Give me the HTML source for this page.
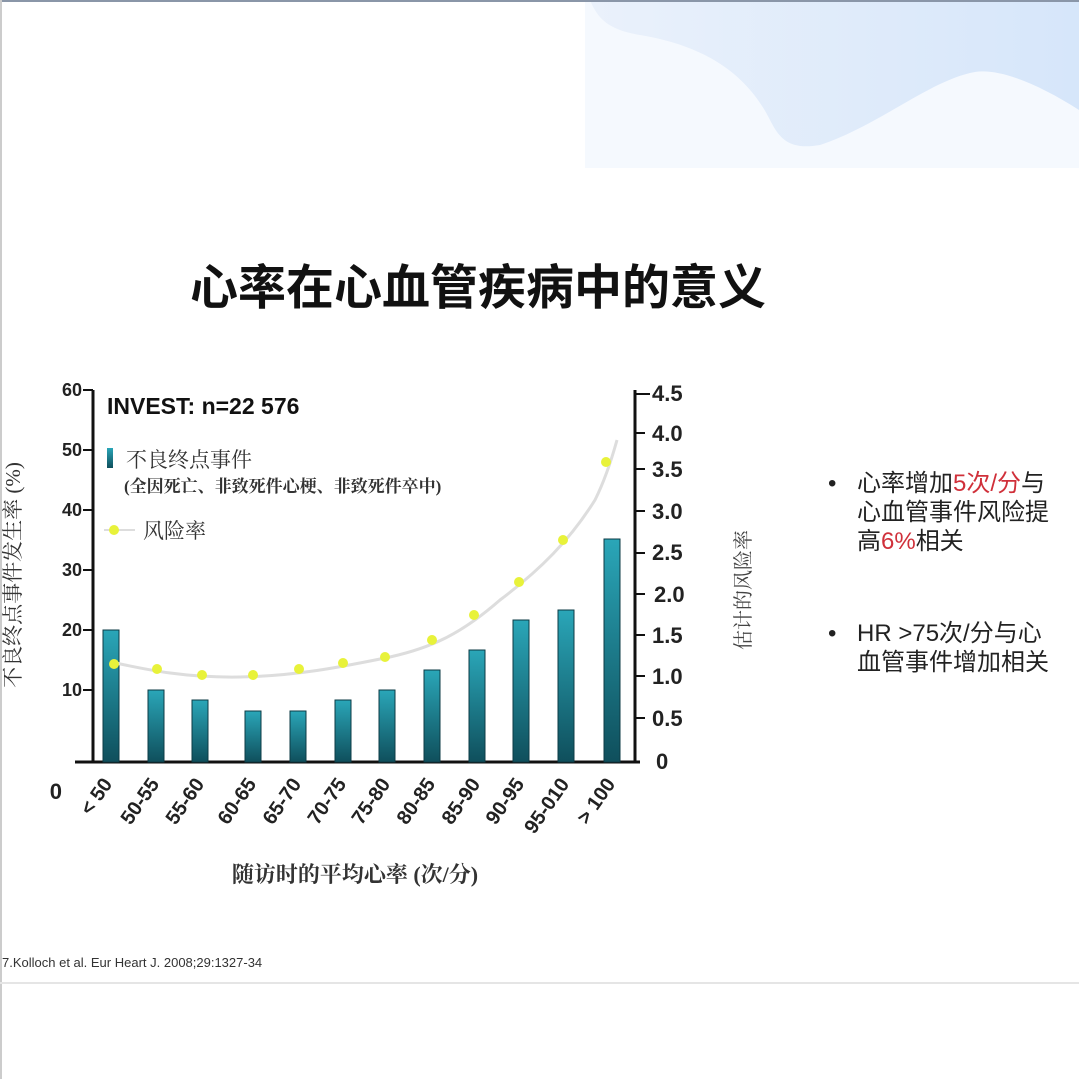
<!DOCTYPE html>
<html><head><meta charset="utf-8"><style>
body{margin:0;width:1079px;height:1079px;overflow:hidden;background:#fff;}
svg{display:block}
text{font-family:"Liberation Sans","Noto Sans CJK SC",sans-serif;}
.serif{font-family:"Liberation Serif","Noto Serif CJK SC",serif;}
</style></head><body>
<svg width="1079" height="1079" viewBox="0 0 1079 1079">
<defs>
<linearGradient id="bg" x1="0" x2="1"><stop offset="0" stop-color="#eaf1fb"/><stop offset="1" stop-color="#d6e6fa"/></linearGradient>
<linearGradient id="bar" x1="0" y1="0" x2="0" y2="1"><stop offset="0" stop-color="#2aa6b8"/><stop offset="1" stop-color="#0f4f5c"/></linearGradient>
</defs>
<rect width="1079" height="1079" fill="#fff"/>
<path d="M585 0 H1079 V168 H585 Z" fill="#f5f9fe"/>
<path d="M590 0 H1079 V110 C1040 85 1000 68 975 72 C930 80 880 125 820 145 C790 150 780 140 770 120 C745 70 700 45 640 35 C610 30 598 20 590 0Z" fill="url(#bg)"/>
<rect x="0" y="0" width="1079" height="2" fill="#8a96a8"/>
<line x1="1" y1="0" x2="1" y2="1079" stroke="#ccc" stroke-width="2"/>
<text x="478" y="304" text-anchor="middle" font-size="48" font-weight="bold" fill="#111">心率在心血管疾病中的意义</text>

<g stroke="#111" stroke-width="3" fill="none">
<line x1="93" y1="390" x2="93" y2="762"/>
<line x1="75" y1="762" x2="640" y2="762"/>
<line x1="635" y1="390" x2="635" y2="762"/>
</g>
<g stroke="#111" stroke-width="2">
<line x1="83" y1="390" x2="93" y2="390"/><line x1="83" y1="450" x2="93" y2="450"/><line x1="83" y1="510" x2="93" y2="510"/><line x1="83" y1="570" x2="93" y2="570"/><line x1="83" y1="630" x2="93" y2="630"/><line x1="83" y1="690" x2="93" y2="690"/>
<line x1="635" y1="394" x2="650" y2="394"/><line x1="635" y1="433" x2="645" y2="433"/><line x1="635" y1="469" x2="645" y2="469"/><line x1="635" y1="511" x2="645" y2="511"/><line x1="635" y1="553" x2="645" y2="553"/><line x1="635" y1="594" x2="645" y2="594"/><line x1="635" y1="635" x2="645" y2="635"/><line x1="635" y1="676" x2="645" y2="676"/><line x1="635" y1="718" x2="645" y2="718"/>
</g>
<g font-size="18" font-weight="bold" fill="#222" text-anchor="end">
<text x="82" y="396">60</text><text x="82" y="456">50</text><text x="82" y="516">40</text><text x="82" y="576">30</text><text x="82" y="636">20</text><text x="82" y="696">10</text>
</g>
<text x="62" y="799" font-size="22" font-weight="bold" fill="#222" text-anchor="end">0</text>
<g font-size="22" font-weight="bold" fill="#222">
<text x="652" y="401">4.5</text><text x="652" y="441">4.0</text><text x="652" y="477">3.5</text><text x="652" y="519">3.0</text><text x="652" y="560">2.5</text><text x="654" y="602">2.0</text><text x="652" y="643">1.5</text><text x="652" y="684">1.0</text><text x="652" y="726">0.5</text><text x="656" y="769">0</text>
</g>
<text transform="translate(20,575) rotate(-90)" text-anchor="middle" font-size="21" fill="#333" class="serif">不良终点事件发生率 (%)</text>
<text transform="translate(750,590) rotate(-90)" text-anchor="middle" font-size="20" fill="#444" class="serif">估计的风险率</text>

<g fill="url(#bar)" stroke="#0c3b45" stroke-width="1">
<rect x="103" y="630" width="16" height="132"/>
<rect x="148" y="690" width="16" height="72"/>
<rect x="192" y="700" width="16" height="62"/>
<rect x="245" y="711" width="16" height="51"/>
<rect x="290" y="711" width="16" height="51"/>
<rect x="335" y="700" width="16" height="62"/>
<rect x="379" y="690" width="16" height="72"/>
<rect x="424" y="670" width="16" height="92"/>
<rect x="469" y="650" width="16" height="112"/>
<rect x="513" y="620" width="16" height="142"/>
<rect x="558" y="610" width="16" height="152"/>
<rect x="604" y="539" width="16" height="223"/>
</g>
<path d="M111 662 C140 668 180 678 240 677 C300 676 350 665 390 657 C430 648 460 635 500 600 C540 570 570 540 595 500 C605 480 612 458 617 440" fill="none" stroke="#ddd" stroke-width="3"/>
<g fill="#e8f23a">
<circle cx="114" cy="664" r="5"/><circle cx="157" cy="669" r="5"/><circle cx="202" cy="675" r="5"/><circle cx="253" cy="675" r="5"/><circle cx="299" cy="669" r="5"/><circle cx="343" cy="663" r="5"/><circle cx="385" cy="657" r="5"/><circle cx="432" cy="640" r="5"/><circle cx="474" cy="615" r="5"/><circle cx="519" cy="582" r="5"/><circle cx="563" cy="540" r="5"/><circle cx="606" cy="462" r="5"/>
</g>

<text x="107" y="414" font-size="23" font-weight="bold" fill="#111">INVEST: n=22 576</text>
<rect x="107" y="448" width="6" height="20" fill="url(#bar)"/>
<text x="126" y="467" font-size="21" fill="#333" class="serif">不良终点事件</text>
<text x="124" y="492" font-size="17" fill="#333" class="serif" font-weight="bold">(全因死亡、非致死件心梗、非致死件卒中)</text>
<line x1="104" y1="530" x2="135" y2="530" stroke="#ddd" stroke-width="2"/>
<circle cx="114" cy="530" r="5" fill="#e8f23a"/>
<text x="143" y="538" font-size="21" fill="#333" class="serif">风险率</text>

<g font-size="20" font-weight="bold" fill="#222" text-anchor="end">
<text transform="translate(113,784) rotate(-55)">&lt; 50</text>
<text transform="translate(160,784) rotate(-55)">50-55</text>
<text transform="translate(205,784) rotate(-55)">55-60</text>
<text transform="translate(257,784) rotate(-55)">60-65</text>
<text transform="translate(302,784) rotate(-55)">65-70</text>
<text transform="translate(347,784) rotate(-55)">70-75</text>
<text transform="translate(391,784) rotate(-55)">75-80</text>
<text transform="translate(436,784) rotate(-55)">80-85</text>
<text transform="translate(481,784) rotate(-55)">85-90</text>
<text transform="translate(525,784) rotate(-55)">90-95</text>
<text transform="translate(570,784) rotate(-55)">95-010</text>
<text transform="translate(616,784) rotate(-55)">&gt; 100</text>
</g>
<text x="355" y="882" font-size="22" font-weight="bold" fill="#333" class="serif" text-anchor="middle">随访时的平均心率 (次/分)</text>
<text x="2" y="967" font-size="13" fill="#333">7.Kolloch et al. Eur Heart J. 2008;29:1327-34</text>
<line x1="0" y1="983" x2="1079" y2="983" stroke="#e5e5e5" stroke-width="2"/>

<g font-size="24" fill="#222">
<text x="828" y="491">•</text>
<text x="857" y="491">心率增加<tspan fill="#d0303a">5次/分</tspan>与</text>
<text x="857" y="520">心血管事件风险提</text>
<text x="857" y="549">高<tspan fill="#d0303a">6%</tspan>相关</text>
<text x="828" y="641">•</text>
<text x="857" y="641">HR &gt;75次/分与心</text>
<text x="857" y="670">血管事件增加相关</text>
</g>
</svg>
</body></html>
